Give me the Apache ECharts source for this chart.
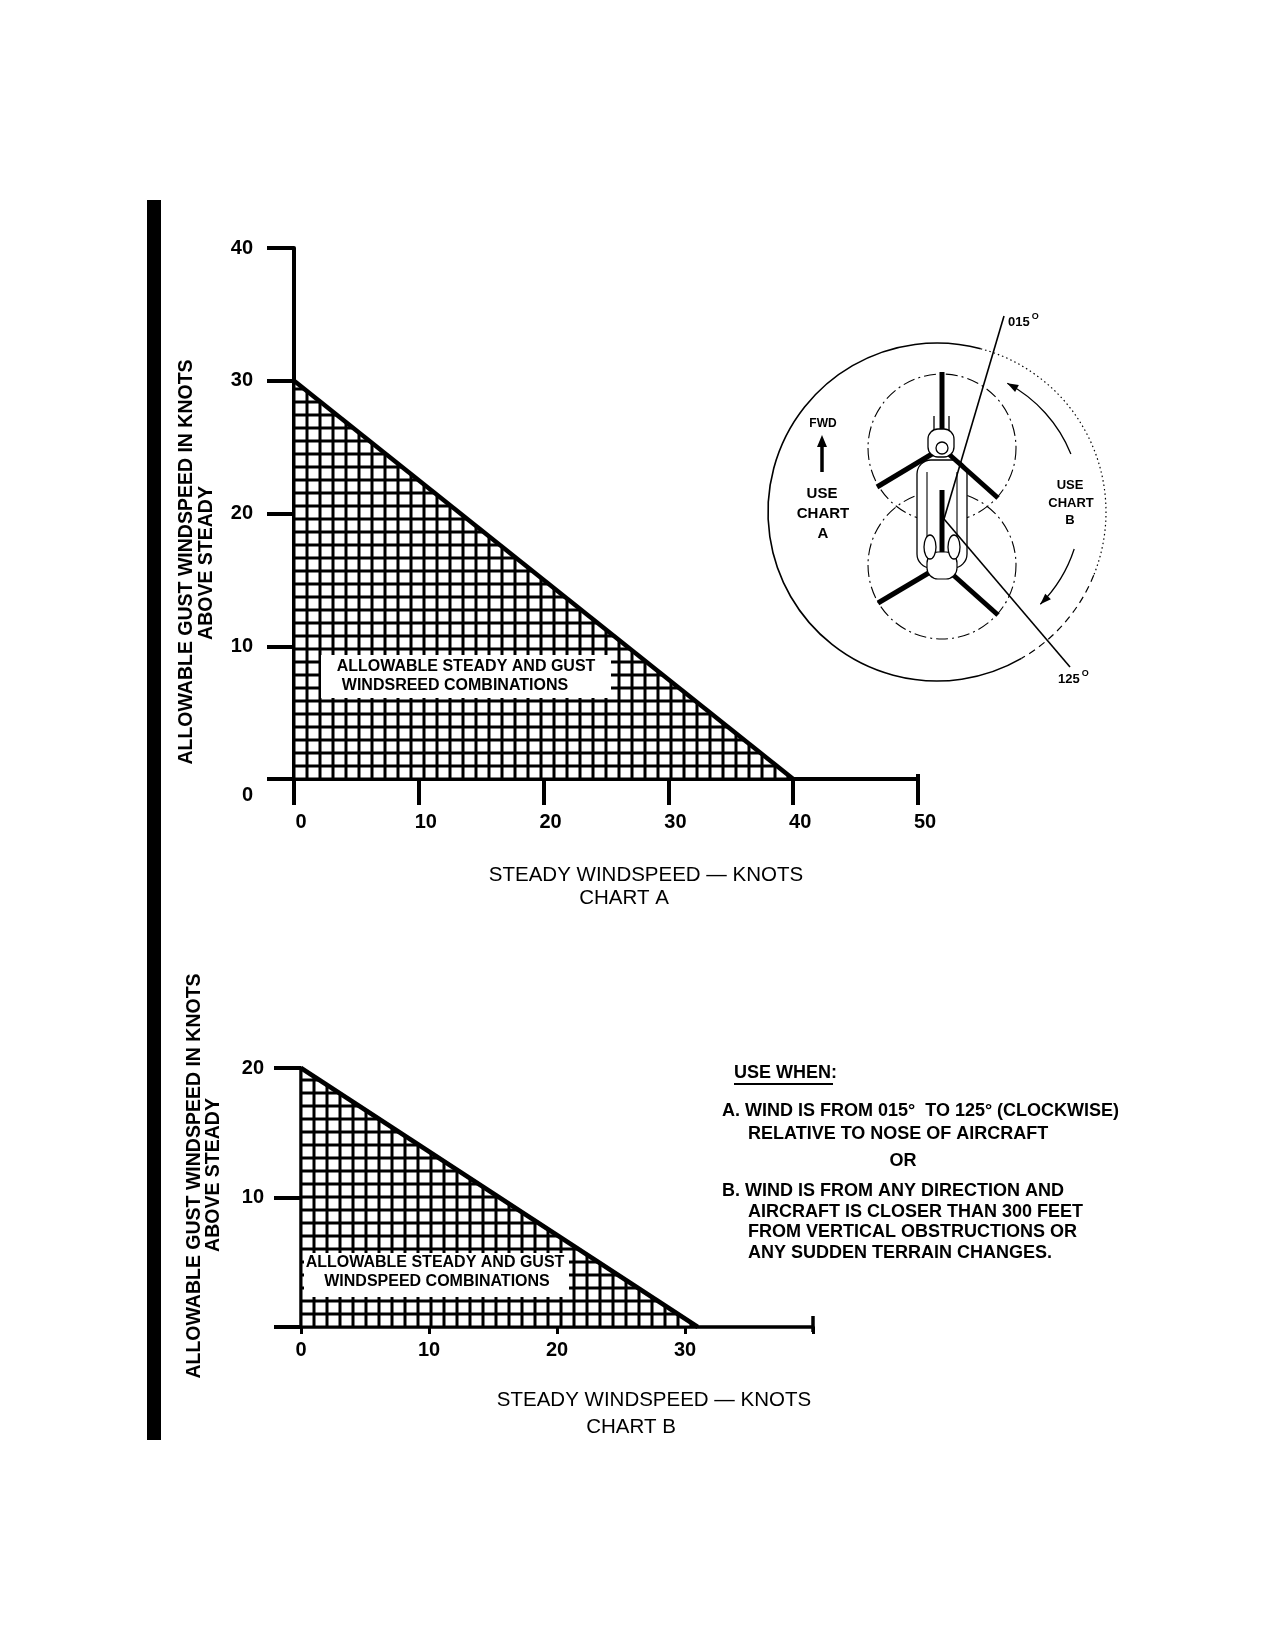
<!DOCTYPE html>
<html>
<head>
<meta charset="utf-8">
<script src="https://cdn.jsdelivr.net/npm/echarts@6/dist/echarts.min.js"></script>
<style>
  html, body { margin: 0; padding: 0; background: #fff; }
  #chart { width: 1273px; height: 1650px; }
</style>
</head>
<body>
<div id="chart"></div>
<script>
// chart A: steady vs gust limit
const steadyA = [0, 40]
const gustA = [30, 0]
const xRangeA = [0, 50]
const yRangeA = [0, 40]
// chart B
const steadyB = [0, 31]
const gustB = [20, 0]
const xRangeB = [0, 40]
const yRangeB = [0, 20]
const tickStep = 10

const FONT = '"Liberation Sans", Arial, sans-serif'
const K = '#000'

// crosshatch tile, lined up with the axis origin
function hatch (ox, oy) {
  const s = 13
  const c = document.createElement('canvas')
  c.width = s
  c.height = s
  const g = c.getContext('2d')
  g.fillStyle = '#fff'
  g.fillRect(0, 0, s, s)
  g.fillStyle = K
  const vx = ((ox % s) + s) % s
  const hy = ((oy % s) + s) % s
  for (const d of [-s, 0, s]) {
    g.fillRect(vx - 1.5 + d, 0, 3, s)
    g.fillRect(0, hy - 1.5 + d, s, 3)
  }
  return { image: c, repeat: 'repeat' }
}

function pairs (xs, ys) {
  return xs.map((x, i) => [x, ys[i]])
}

function text (x, y, str, size, weight, align, rot) {
  return {
    type: 'text', x, y, rotation: rot || 0, z: 30,
    style: {
      text: str, font: `${weight} ${size}px ${FONT}`, fill: K,
      align: align || 'center', verticalAlign: 'middle'
    }
  }
}

function seg (x1, y1, x2, y2, w, dash) {
  return {
    type: 'line', z: 20,
    shape: { x1, y1, x2, y2 },
    style: { stroke: K, lineWidth: w, lineDash: dash || null, lineCap: 'butt' }
  }
}

function deg (d) { return d * Math.PI / 180 }

function arrowHead (px, py, dx, dy, len, half) {
  const n = Math.hypot(dx, dy)
  const ux = dx / n, uy = dy / n
  const bx = px - ux * len, by = py - uy * len
  return {
    type: 'polygon', z: 20,
    shape: { points: [[px, py], [bx - uy * half, by + ux * half], [bx + uy * half, by - ux * half]] },
    style: { fill: K }
  }
}

function blades (hx, hy, ends) {
  return ends.map(e => seg(hx, hy, e[0], e[1], 5))
}

function ring (cx, cy, r, a0, a1, w, dash) {
  return {
    type: 'arc', z: 20,
    shape: { cx, cy, r, startAngle: deg(a0), endAngle: deg(a1), clockwise: true },
    style: { stroke: K, lineWidth: w, fill: null, lineDash: dash || null }
  }
}

// wind-direction sketch of the aircraft
function heliSketch () {
  const cx = 942, cy = 506, rr = 139
  const pt = a => [cx + rr * Math.sin(deg(a)), cy - rr * Math.cos(deg(a))]
  const top = pt(28), bot = pt(135)
  const rotorDash = [12, 4, 2, 4]
  const els = [
    ring(937, 512, 169, 60, 285, 1.6),
    ring(937, 512, 169, -75, 22, 1.2, [1.5, 3]),
    ring(937, 512, 169, 22, 60, 1.2, [7, 5]),
    { type: 'circle', z: 20, shape: { cx: 942, cy: 448, r: 74 },
      style: { stroke: K, lineWidth: 1.1, fill: null, lineDash: rotorDash } },
    { type: 'circle', z: 20, shape: { cx: 942, cy: 565, r: 74 },
      style: { stroke: K, lineWidth: 1.1, fill: null, lineDash: rotorDash } },
    // fuselage
    { type: 'rect', z: 20, shape: { x: 917, y: 460, width: 50, height: 108, r: 14 },
      style: { stroke: K, lineWidth: 1.3, fill: '#fff' } },
    { type: 'rect', z: 21, shape: { x: 927, y: 552, width: 30, height: 27, r: 11 },
      style: { stroke: K, lineWidth: 1.2, fill: '#fff' } },
    { type: 'rect', z: 21, shape: { x: 928, y: 429, width: 26, height: 28, r: 10 },
      style: { stroke: K, lineWidth: 1.3, fill: '#fff' } },
    seg(934, 416, 934, 431, 1.3),
    seg(949, 416, 949, 431, 1.3),
    seg(927, 472, 927, 540, 1.1),
    seg(957, 472, 957, 540, 1.1),
    { type: 'ellipse', z: 22, shape: { cx: 930, cy: 547, rx: 6, ry: 12 }, style: { stroke: K, lineWidth: 1.3, fill: '#fff' } },
    { type: 'ellipse', z: 22, shape: { cx: 954, cy: 547, rx: 6, ry: 12 }, style: { stroke: K, lineWidth: 1.3, fill: '#fff' } },
    { type: 'circle', z: 22, shape: { cx: 942, cy: 448, r: 6 }, style: { stroke: K, lineWidth: 1.3, fill: '#fff' } },
    // 015 and 125 rays
    seg(944, 519, 1004, 316, 1.6),
    seg(944, 519, 1070, 667, 1.6),
    // clockwise sector arrow, split round the text
    ring(cx, cy, rr, 28 - 90, 68 - 90, 1.3),
    ring(cx, cy, rr, 108 - 90, 135 - 90, 1.3),
    arrowHead(top[0], top[1], -Math.cos(deg(28)), -Math.sin(deg(28)), 11, 4),
    arrowHead(bot[0], bot[1], Math.cos(deg(135)), Math.sin(deg(135)), 11, 4),
    // FWD arrow
    seg(822, 472, 822, 446, 3.5),
    arrowHead(822, 435, 0, -1, 12, 5),
    text(823, 424, 'FWD', 12, 'bold'),
    text(822, 494, 'USE', 15, 'bold'),
    text(823, 514, 'CHART', 15, 'bold'),
    text(823, 534, 'A', 15, 'bold'),
    text(1070, 485, 'USE', 13, 'bold'),
    text(1071, 503, 'CHART', 13, 'bold'),
    text(1070, 520, 'B', 13, 'bold'),
    {
      type: 'text', x: 1008, y: 322, z: 30,
      style: {
        text: '015{s|O}', font: `bold 13px ${FONT}`, fill: K, align: 'left', verticalAlign: 'middle',
        rich: { s: { fontSize: 9, fontWeight: 'bold', verticalAlign: 'top', padding: [0, 0, 10, 2] } }
      }
    },
    {
      type: 'text', x: 1058, y: 679, z: 30,
      style: {
        text: '125{s|O}', font: `bold 13px ${FONT}`, fill: K, align: 'left', verticalAlign: 'middle',
        rich: { s: { fontSize: 9, fontWeight: 'bold', verticalAlign: 'top', padding: [0, 0, 10, 2] } }
      }
    }
  ]
  return els
    .concat(blades(942, 448, [[942, 372], [877, 487], [998, 498]]))
    .concat(blades(942, 565, [[942, 490], [878, 603], [998, 615]]))
}

function whiteBox (x, y, w, h, l1, p1, l2, p2) {
  return [
    { type: 'rect', z: 25, shape: { x, y, width: w, height: h }, style: { fill: '#fff' } },
    text(p1[0], p1[1], l1, 16, 'bold'),
    text(p2[0], p2[1], l2, 16, 'bold')
  ]
}

const axisLine = w => ({ show: true, onZero: false, lineStyle: { color: K, width: w } })

const option = {
  animation: false,
  backgroundColor: '#fff',
  grid: [
    { left: 294, top: 248, width: 624, height: 531 },
    { left: 301, top: 1068, width: 512, height: 259 }
  ],
  xAxis: [
    {
      gridIndex: 0, type: 'value', min: xRangeA[0], max: xRangeA[1], interval: tickStep,
      axisLine: axisLine(4),
      axisTick: { show: true, length: 26, lineStyle: { color: K, width: 4 } },
      axisLabel: { margin: 33, color: K, fontSize: 20, fontWeight: 'bold', fontFamily: FONT, padding: [0, 0, 0, 14] },
      splitLine: { show: false }
    },
    {
      gridIndex: 1, type: 'value', min: xRangeB[0], max: xRangeB[1], interval: tickStep,
      axisLine: axisLine(3.5),
      axisTick: { show: true, length: 7, lineStyle: { color: K, width: 3 } },
      axisLabel: {
        margin: 13, color: K, fontSize: 20, fontWeight: 'bold', fontFamily: FONT,
        formatter: v => (v === xRangeB[1] ? '' : v)
      },
      splitLine: { show: false }
    }
  ],
  yAxis: [
    {
      gridIndex: 0, type: 'value', min: yRangeA[0], max: yRangeA[1], interval: tickStep,
      axisLine: axisLine(4),
      axisTick: { show: true, length: 27, lineStyle: { color: K, width: 4 } },
      axisLabel: {
        margin: 41, color: K, fontSize: 20, fontWeight: 'bold', fontFamily: FONT,
        formatter: v => (v === 0 ? '{low|0}' : String(v)),
        rich: { low: { fontSize: 20, fontWeight: 'bold', fontFamily: FONT, color: K, padding: [32, 0, 0, 0] } }
      },
      splitLine: { show: false }
    },
    {
      gridIndex: 1, type: 'value', min: yRangeB[0], max: yRangeB[1], interval: tickStep,
      axisLine: axisLine(3.5),
      axisTick: { show: true, length: 27, lineStyle: { color: K, width: 4 } },
      axisLabel: {
        margin: 37, color: K, fontSize: 20, fontWeight: 'bold', fontFamily: FONT,
        formatter: v => (v === 0 ? '' : v)
      },
      splitLine: { show: false }
    }
  ],
  series: [
    {
      type: 'line', xAxisIndex: 0, yAxisIndex: 0,
      data: pairs(steadyA, gustA),
      symbol: 'none', z: 3,
      lineStyle: { color: K, width: 4.5 },
      areaStyle: { color: hatch(294, 779), opacity: 1, origin: 'start' }
    },
    {
      type: 'line', xAxisIndex: 1, yAxisIndex: 1,
      data: pairs(steadyB, gustB),
      symbol: 'none', z: 3,
      lineStyle: { color: K, width: 4.5 },
      areaStyle: { color: hatch(301, 1327), opacity: 1, origin: 'start' }
    }
  ],
  graphic: [
    { type: 'rect', z: 30, shape: { x: 147, y: 200, width: 14, height: 1240 }, style: { fill: K } },
    // chart A titles
    text(187, 562, 'ALLOWABLE GUST WINDSPEED IN KNOTS', 19.5, 'bold', 'center', Math.PI / 2),
    text(207, 563, 'ABOVE STEADY', 19.5, 'bold', 'center', Math.PI / 2),
    text(646, 875, 'STEADY WINDSPEED — KNOTS', 20.5, 'normal'),
    text(624, 898, 'CHART A', 20.5, 'normal'),
    // chart B titles
    text(195, 1176, 'ALLOWABLE GUST WINDSPEED IN KNOTS', 19.5, 'bold', 'center', Math.PI / 2),
    text(214, 1175, 'ABOVE STEADY', 19.5, 'bold', 'center', Math.PI / 2),
    text(654, 1400, 'STEADY WINDSPEED — KNOTS', 20.5, 'normal'),
    text(631, 1427, 'CHART B', 20.5, 'normal'),
    // notes
    text(734, 1073, 'USE WHEN:', 18, 'bold', 'left'),
    seg(734, 1084, 833, 1084, 2.2),
    text(722, 1111, 'A. WIND IS FROM 015°  TO 125° (CLOCKWISE)', 18, 'bold', 'left'),
    text(748, 1134, 'RELATIVE TO NOSE OF AIRCRAFT', 18, 'bold', 'left'),
    text(903, 1161, 'OR', 18, 'bold'),
    text(722, 1191, 'B. WIND IS FROM ANY DIRECTION AND', 18, 'bold', 'left'),
    text(748, 1212, 'AIRCRAFT IS CLOSER THAN 300 FEET', 18, 'bold', 'left'),
    text(748, 1232, 'FROM VERTICAL OBSTRUCTIONS OR', 18, 'bold', 'left'),
    text(748, 1253, 'ANY SUDDEN TERRAIN CHANGES.', 18, 'bold', 'left')
  ]
    .concat(whiteBox(321, 655, 290, 43, 'ALLOWABLE STEADY AND GUST', [466, 667], 'WINDSREED COMBINATIONS', [455, 686]))
    .concat(whiteBox(304, 1253, 265, 44, 'ALLOWABLE STEADY AND GUST', [435, 1263], 'WINDSPEED COMBINATIONS', [437, 1282]))
    .concat(heliSketch())
}

const chart = echarts.init(document.getElementById('chart'))
chart.setOption(option)

// end-of-axis stops that cross the axis line (both sides)
const endA = chart.convertToPixel({ xAxisIndex: 0, yAxisIndex: 0 }, [xRangeA[1], yRangeA[0]])
const endB = chart.convertToPixel({ xAxisIndex: 1, yAxisIndex: 1 }, [xRangeB[1], yRangeB[0]])
chart.setOption({
  graphic: [
    Object.assign(seg(endA[0], endA[1] - 5, endA[0], endA[1] + 2, 4), { id: 'stopA' }),
    Object.assign(seg(endB[0], endB[1] - 11, endB[0], endB[1] + 5, 3.5), { id: 'stopB' })
  ]
})
</script>
</body>
</html>
